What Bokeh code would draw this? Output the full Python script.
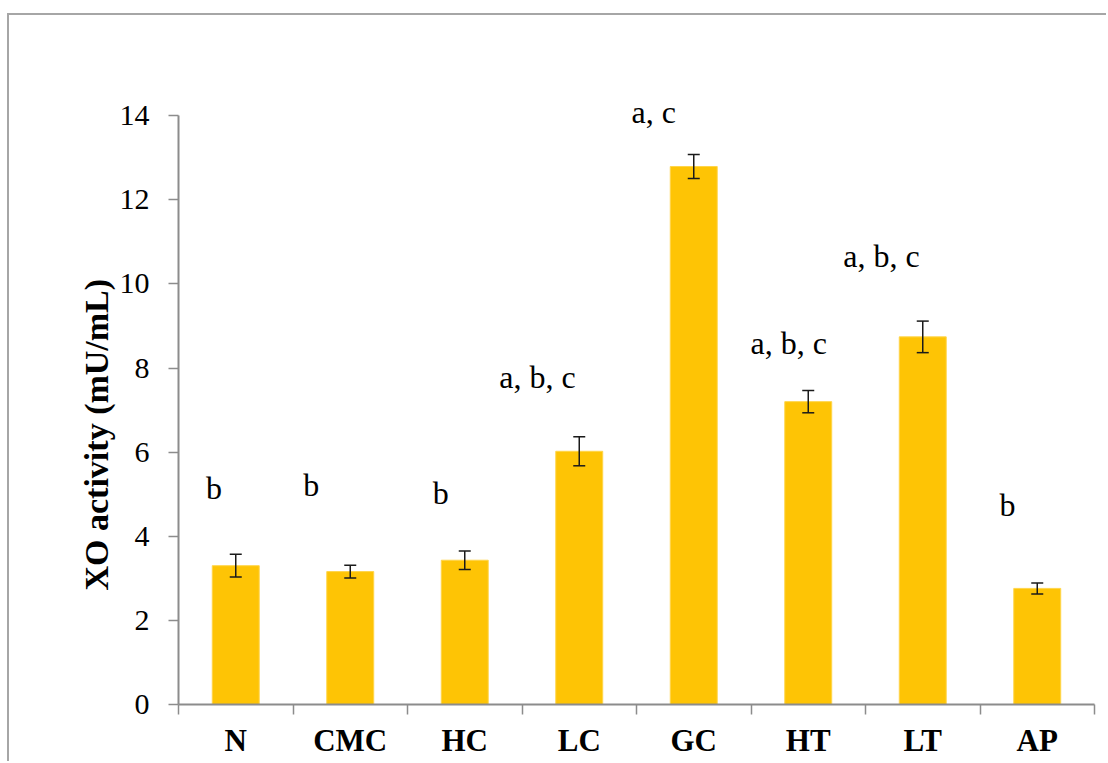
from bokeh.plotting import figure
from bokeh.models import (ColumnDataSource, FixedTicker, Whisker, TeeHead, Label, Range1d, Title)
from bokeh.embed import file_html
from bokeh.resources import INLINE

categories = ["N", "CMC", "HC", "LC", "GC", "HT", "LT", "AP"]
xo_mean = [3.30, 3.16, 3.43, 6.02, 12.79, 7.20, 8.74, 2.76]
xo_err = [0.27, 0.15, 0.22, 0.345, 0.285, 0.265, 0.375, 0.13]
sig_labels = ["b", "b", "b", "a, b, c", "a, c", "a, b, c", "a, b, c", "b"]
sig_label_y = [5.15, 5.22, 5.03, 7.79, 14.09, 8.59, 10.66, 4.74]
sig_label_dx = [-0.19, -0.34, -0.21, -0.365, -0.35, -0.17, -0.36, -0.26]
y_ticks = [0, 2, 4, 6, 8, 10, 12, 14]
y_title = "XO activity (mU/mL)"

FONT = "Liberation Serif"
AXIS_COLOR = "#8c8c8c"

xpos = list(range(1, len(categories) + 1))
src = ColumnDataSource(dict(
    x=xpos, top=xo_mean,
    upper=[m + e for m, e in zip(xo_mean, xo_err)],
    lower=[m - e for m, e in zip(xo_mean, xo_err)],
))

p = figure(width=1099, height=748, output_backend="svg", toolbar_location=None,
           x_range=Range1d(0.5, len(categories) + 0.5), y_range=Range1d(0, 16),
           min_border_left=169, min_border_right=14, min_border_top=16, min_border_bottom=59)
p.styles = {"border-top": "2px solid #a6a6a6", "border-left": "2px solid #a6a6a6",
            "margin-top": "13px", "margin-left": "7px"}
p.outline_line_color = None
p.xgrid.grid_line_color = None
p.ygrid.grid_line_color = None
p.background_fill_color = "white"
p.border_fill_color = "white"

p.vbar(x="x", top="top", bottom=0, width=0.41, source=src,
       fill_color="#FEC405", line_color="#FFD54A", line_width=1)

w = Whisker(base="x", upper="upper", lower="lower", source=src,
            line_color="#1a1a1a", line_width=1.5, level="annotation",
            upper_head=TeeHead(size=12, line_color="#1a1a1a", line_width=1.5),
            lower_head=TeeHead(size=12, line_color="#1a1a1a", line_width=1.5))
p.add_layout(w)

for xi, dx, yy, txt in zip(xpos, sig_label_dx, sig_label_y, sig_labels):
    p.add_layout(Label(x=xi + dx, y=yy, text=txt, text_font=FONT, text_font_size="32px",
                       text_align="center", text_baseline="alphabetic", text_color="black"))

# y axis
ya = p.yaxis[0]
ya.ticker = FixedTicker(ticks=y_ticks)
ya.bounds = (0, 14)
ya.axis_line_color = AXIS_COLOR
ya.axis_line_width = 2
ya.major_tick_line_color = AXIS_COLOR
ya.major_tick_line_width = 1.5
ya.major_tick_in = 0
ya.major_tick_out = 10
ya.minor_tick_line_color = None
ya.minor_tick_in = 0
ya.minor_tick_out = 0
ya.major_label_text_font = FONT
ya.major_label_text_font_size = "30px"
ya.major_label_text_color = "black"
ya.major_label_standoff = 19

# x axis
xa = p.xaxis[0]
xa.ticker = FixedTicker(ticks=xpos, minor_ticks=[i + 0.5 for i in range(0, len(categories) + 1)])
xa.major_label_overrides = {xi: c for xi, c in zip(xpos, categories)}
xa.axis_line_color = AXIS_COLOR
xa.axis_line_width = 2
xa.major_tick_line_color = None
xa.major_tick_in = 0
xa.major_tick_out = 0
xa.minor_tick_line_color = AXIS_COLOR
xa.minor_tick_line_width = 1.5
xa.minor_tick_in = 0
xa.minor_tick_out = 10
xa.major_label_text_font = FONT
xa.major_label_text_font_size = "31px"
xa.major_label_text_font_style = "bold"
xa.major_label_text_color = "black"
xa.major_label_standoff = 8

t = Title(text=y_title, align="left", offset=114, standoff=3,
          text_font=FONT, text_font_size="34px", text_font_style="bold", text_color="black")
p.add_layout(t, "left")

open("out.html", "w").write(file_html(p, INLINE))
